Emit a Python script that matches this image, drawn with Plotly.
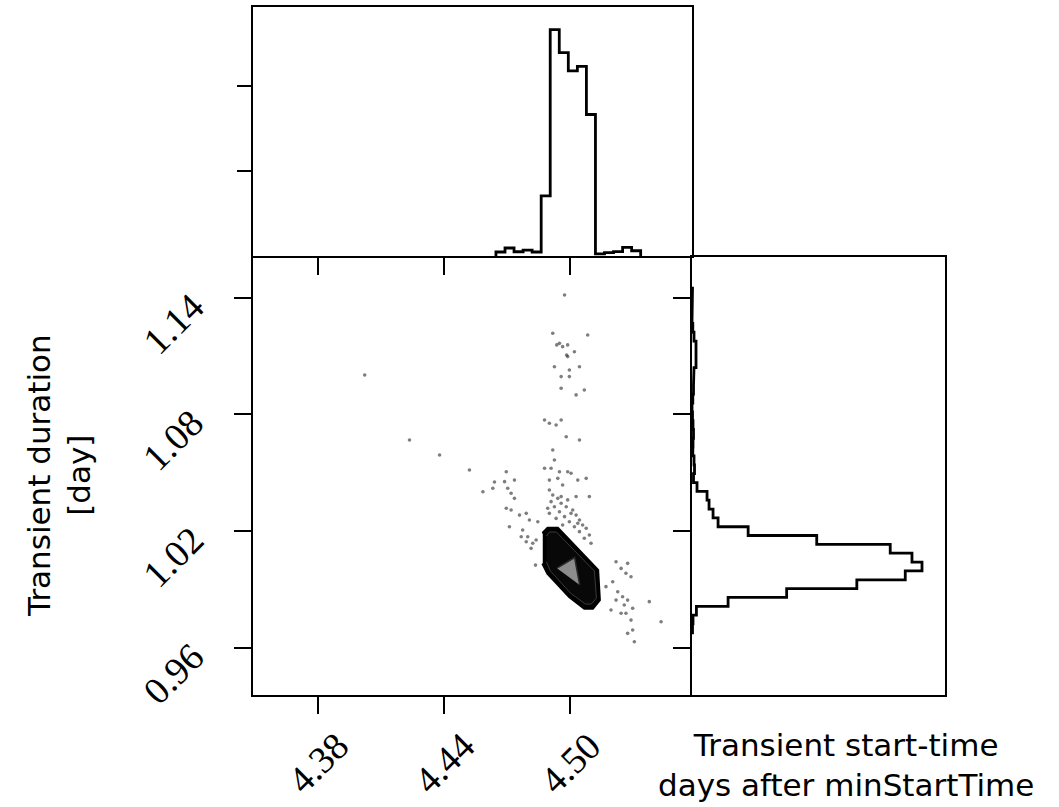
import plotly.graph_objects as go

# ---------------- data ----------------
x_range = [4.3491, 4.5578]
y_range = [0.9357, 1.1609]
x_tick_vals = [4.38, 4.44, 4.50]
x_tick_text = ["4.38", "4.44", "4.50"]
y_tick_vals = [0.96, 1.02, 1.08, 1.14]
y_tick_text = ["0.96", "1.02", "1.08", "1.14"]

# marginal histogram of start time (top)
top_edges = [4.4646, 4.4689, 4.4732, 4.4775, 4.4818, 4.4861, 4.4904, 4.4947, 4.4990,
             4.5033, 4.5076, 4.5119, 4.5162, 4.5205, 4.5248, 4.5291, 4.5334]
top_counts = [47, 94, 50, 70, 47, 709, 2667, 2396, 2180, 2235, 1667, 24, 39, 51, 102, 62]
top_ticks = [1000, 2000]

# marginal histogram of duration (right)
right_edges = [0.9677, 0.9723, 0.9768, 0.9813, 0.9859, 0.9904, 0.9949, 0.9995, 1.0040, 1.0086,
               1.0131, 1.0177, 1.0222, 1.0268, 1.0313, 1.0359, 1.0404, 1.0449, 1.0495, 1.0540,
               1.0586, 1.0631, 1.0677, 1.0722, 1.0767, 1.0813, 1.0858, 1.0904, 1.0949, 1.0994,
               1.1040, 1.1085, 1.1131, 1.1176, 1.1222, 1.1267, 1.1313, 1.1358, 1.1403, 1.1449]
right_counts = [5, 10, 44, 360, 944, 1644, 2127, 2294, 2194, 1977, 1244, 560, 260, 210, 170, 150,
                50, 15, 25, 20, 8, 10, 15, 10, 5, 0, 8, 15, 15, 20, 40, 45, 40, 20, 8, 0, 5, 5, 5]

# outlying samples (start time, duration)
pts_x = [4.4972,
         4.4916, 4.4948, 4.4963, 4.4987, 4.5019, 4.4987, 4.4924, 4.4956, 4.4995, 4.5043, 4.5082,
         4.5027, 4.5066, 4.4956, 4.4995, 4.4935, 4.4982,
         4.4900, 4.4932, 4.4956, 4.4980, 4.5043, 4.4916, 4.4924, 4.4908, 4.4877, 4.4948, 4.4987,
         4.5003, 4.4940, 4.4900, 4.4963, 4.5035, 4.5075, 4.5027, 4.5090,
         4.4695, 4.4702, 4.4718, 4.4734, 4.4695, 4.4718, 4.4710, 4.4758, 4.4790, 4.4805, 4.4773,
         4.4797, 4.4821, 4.4813, 4.4766, 4.4687, 4.4734, 4.4584, 4.4631, 4.4845, 4.4837, 4.4790,
         4.4900, 4.4916, 4.4940, 4.4908, 4.4956, 4.4924, 4.4980, 4.4948, 4.5003, 4.4972, 4.5027,
         4.4932, 4.5043, 4.4995, 4.5058, 4.5019, 4.5075, 4.4963, 4.5043, 4.5090, 4.5066, 4.5098,
         4.4900, 4.4892, 4.4987, 4.5035, 4.4956, 4.5011,
         4.5217, 4.5272, 4.5241, 4.5264, 4.5288, 4.5201, 4.5169, 4.5225, 4.5248, 4.5272, 4.5296,
         4.5193, 4.5241, 4.5288, 4.5296, 4.5272, 4.5304, 4.5217, 4.5256, 4.5375, 4.5431, 4.5264,
         4.4022, 4.4235, 4.4378, 4.4520, 4.4639, 4.4877, 4.4834]
pts_y = [1.1414,
         1.1217, 1.1165, 1.1148, 1.1157, 1.1122, 1.1097, 1.1045, 1.0994, 1.1028, 1.1045, 1.1208,
         1.0900, 1.0925, 1.0934, 1.0994, 1.1157, 1.1105,
         1.0754, 1.0745, 1.0771, 1.0685, 1.0668, 1.0617, 1.0565, 1.0523, 1.0523, 1.0505, 1.0505,
         1.0497, 1.0471, 1.0462, 1.0437, 1.0462, 1.0471, 1.0377, 1.0377,
         1.0505, 1.0420, 1.0394, 1.0368, 1.0317, 1.0308, 1.0222, 1.0282, 1.0291, 1.0257, 1.0205,
         1.0171, 1.0137, 1.0111, 1.0171, 1.0454, 1.0462, 1.0402, 1.0420, 1.0248, 1.0154, 1.0145,
         1.0411, 1.0385, 1.0368, 1.0351, 1.0343, 1.0325, 1.0325, 1.0299, 1.0291, 1.0274, 1.0282,
         1.0265, 1.0257, 1.0248, 1.0231, 1.0222, 1.0214, 1.0231, 1.0197, 1.0180, 1.0163, 1.0137,
         1.0291, 1.0317, 1.0360, 1.0240, 1.0377, 1.0308,
         1.0042, 1.0034, 1.0008, 0.9983, 0.9965, 0.9939, 0.9914, 0.9888, 0.9862, 0.9845, 0.9803,
         0.9794, 0.9777, 0.9742, 0.9691, 0.9674, 0.9631, 0.9845, 0.9820, 0.9837, 0.9734, 0.9777,
         1.1002, 1.0668, 1.0591, 1.0514, 1.0452, 1.0771, 1.0025]

# density contour regions (start time, duration)
outer_x = [4.48685, 4.48922, 4.49397, 4.51296, 4.51377, 4.51059, 4.50665, 4.49953, 4.48922, 4.48685]
outer_y = [1.01883, 1.02140, 1.02140, 0.99996, 0.98453, 0.98026, 0.98026, 0.98622, 0.99826, 1.00340]
ring_x = [4.48860, 4.49003, 4.49335, 4.51140, 4.51235, 4.50997, 4.50712, 4.50000, 4.49050, 4.48860]
ring_y = [1.01744, 1.01950, 1.01950, 0.99944, 0.98556, 0.98247, 0.98247, 0.98813, 0.99944, 1.00407]
core_x = [4.49360, 4.50200, 4.50440]
core_y = [1.00090, 1.00640, 0.99230]

# ---------------- figure ----------------
W, H = 1059, 807
fig = go.Figure()

# top histogram as step outline
tx, ty = [top_edges[0]], [0]
for i, c in enumerate(top_counts):
    tx += [top_edges[i], top_edges[i + 1]]
    ty += [c, c]
tx.append(top_edges[-1]); ty.append(0)
fig.add_trace(go.Scatter(x=tx, y=ty, mode="lines", line=dict(color="black", width=2.8),
                         xaxis="x2", yaxis="y2", hoverinfo="skip"))

# right histogram as step outline
rx, ry = [0], [right_edges[0]]
for i, c in enumerate(right_counts):
    rx += [c, c]
    ry += [right_edges[i], right_edges[i + 1]]
rx.append(0); ry.append(right_edges[-1])
fig.add_trace(go.Scatter(x=rx, y=ry, mode="lines", line=dict(color="black", width=2.8),
                         xaxis="x3", yaxis="y3", hoverinfo="skip"))

# scatter of samples
fig.add_trace(go.Scatter(x=pts_x, y=pts_y, mode="markers",
                         marker=dict(size=3.6, color="rgba(40,40,40,0.6)", line=dict(width=0)),
                         xaxis="x", yaxis="y", hoverinfo="skip"))
# contours
fig.add_trace(go.Scatter(x=outer_x, y=outer_y, mode="lines", fill="toself", fillcolor="#000000",
                         line=dict(color="black", width=3), xaxis="x", yaxis="y", hoverinfo="skip"))
fig.add_trace(go.Scatter(x=ring_x, y=ring_y, mode="lines", fill="toself", fillcolor="#080808",
                         line=dict(color="#3a3a3a", width=1), xaxis="x", yaxis="y", hoverinfo="skip"))
fig.add_trace(go.Scatter(x=core_x, y=core_y, mode="lines", fill="toself", fillcolor="#8c8c8c",
                         line=dict(color="#2a2a2a", width=1.5), xaxis="x", yaxis="y", hoverinfo="skip"))

common = dict(showline=True, linecolor="black", linewidth=2.4, showgrid=False,
              zeroline=False, tickcolor="black", tickwidth=2.2, showticklabels=False)

main_x = [253 / W, 692 / W]
main_y = [1 - 695 / H, 1 - 257 / H]
fig.update_layout(
    width=W, height=H, margin=dict(l=0, r=0, t=0, b=0),
    paper_bgcolor="white", plot_bgcolor="white", showlegend=False,
    xaxis=dict(domain=main_x, range=x_range, tickvals=x_tick_vals, ticks="outside",
               ticklen=17, anchor="y", mirror=False, **common),
    yaxis=dict(domain=main_y, range=y_range, tickvals=y_tick_vals, ticks="outside",
               ticklen=17, anchor="x", mirror=False, **common),
    xaxis2=dict(domain=main_x, range=x_range, tickvals=x_tick_vals, ticks="outside",
                ticklen=17, anchor="y2", mirror=True, **common),
    yaxis2=dict(domain=[1 - 256 / H, 1 - 7 / H], range=[0, max(top_counts) * 1.1],
                tickvals=top_ticks, ticks="outside", ticklen=14, anchor="x2", mirror=True, **common),
    xaxis3=dict(domain=[692 / W, 945 / W], range=[0, max(right_counts) * 1.1],
                ticks="", anchor="y3", mirror=True, **common),
    yaxis3=dict(domain=main_y, range=y_range, tickvals=y_tick_vals, ticks="outside",
                ticklen=17, anchor="x3", mirror=True, **common),
)

ann = []
tick_font = dict(family="Liberation Serif", size=38, color="black")
for v, t in zip(x_tick_vals, x_tick_text):
    ann.append(dict(x=v, xref="x", y=1 - 763 / H, yref="paper", text=t, textangle=-45,
                    showarrow=False, xanchor="center", yanchor="middle", font=tick_font))
for v, t in zip(y_tick_vals, y_tick_text):
    ann.append(dict(x=173 / W, xref="paper", y=v, yref="y", yshift=-26, text=t, textangle=-45,
                    showarrow=False, xanchor="center", yanchor="middle", font=tick_font))
title_font = dict(family="DejaVu Sans", size=31, color="black")
ann.append(dict(x=59 / W, xref="paper", y=1 - 476 / H, yref="paper",
                text="Transient duration<br>[day]", textangle=-90, showarrow=False,
                xanchor="center", yanchor="middle", align="center", font=title_font))
ann.append(dict(x=846 / W, xref="paper", y=1 - 765 / H, yref="paper",
                text="Transient start-time<br>days after minStartTime", showarrow=False,
                xanchor="center", yanchor="middle", align="center", font=title_font))
fig.update_layout(annotations=ann)

fig.write_html("out.html")
